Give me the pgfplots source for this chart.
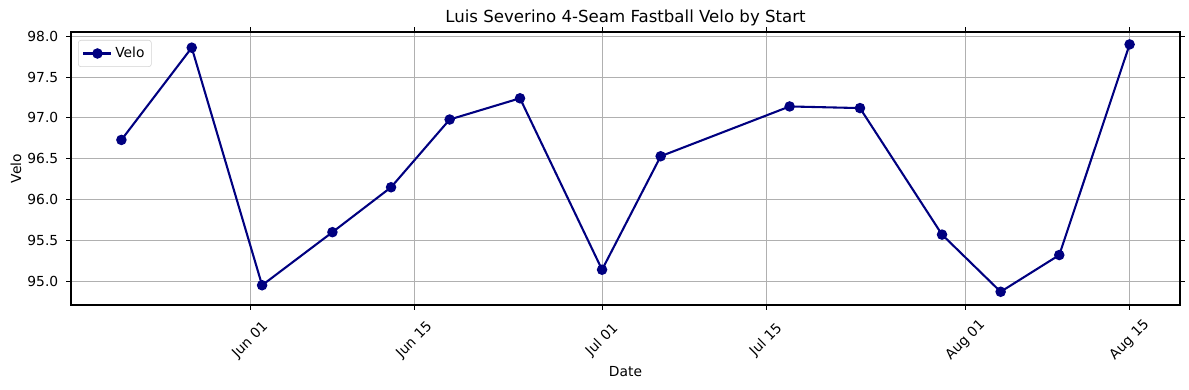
\documentclass[border=0pt]{standalone}
\usepackage{fontspec}
\setmainfont{DejaVu Sans}
\usepackage{pgfplots}
\pgfplotsset{compat=1.18}
\definecolor{navyc}{RGB}{0,0,128}
\definecolor{gridgray}{RGB}{176,176,176}
\begin{document}
\begin{tikzpicture}
\path[use as bounding box] (-0.71in,-0.85in) rectangle (11.18in,3.05in);
\begin{axis}[at={(0,0)}, anchor=south west, scale only axis,
  width=11.09in, height=2.73in,
  xmin=-15.3, xmax=79.3, ymin=94.708, ymax=98.052,
  xtick={0,14,30,44,61,75},
  xticklabels={Jun 01,Jun 15,Jul 01,Jul 15,Aug 01,Aug 15},
  ytick={95,95.5,96,96.5,97,97.5,98},
  yticklabels={95.0,95.5,96.0,96.5,97.0,97.5,98.0},
  tick align=outside, major tick length=3.5bp,
  tick style={black, line width=0.8bp},
  axis line style={line width=0.8bp},
  grid=major, major grid style={gridgray, line width=0.8bp},
  ticklabel style={font=\fontsize{10}{12}\selectfont},
  xticklabel style={rotate=45, anchor=center, xshift=-0.215in, yshift=-0.215in},
  yticklabel style={anchor=east, xshift=-0.03in},
  /pgf/number format/assume math mode=true,
  xlabel={Date}, ylabel={Velo},
  label style={font=\fontsize{10}{12}\selectfont},
  xlabel style={at={(axis description cs:0.5,-0.2454)}, anchor=center},
  ylabel style={at={(axis description cs:-0.0496,0.5)}, anchor=center, rotate=0},
  every axis title shift=0pt,
  title={Luis Severino 4-Seam Fastball Velo by Start},
  title style={at={(axis description cs:0.5,1.0513)}, anchor=center, font=\fontsize{12}{14}\selectfont},
  legend style={at={(axis description cs:0,1)}, anchor=north west, xshift=0.07in, yshift=-0.08in,
    draw=gray!35, rounded corners=2pt, font=\fontsize{10}{12}\selectfont, inner sep=3pt},
  legend image code/.code={\draw[mark repeat=2, mark phase=2] plot coordinates {(0in,0in) (0.14in,0in) (0.28in,0in)};},
  legend cell align=left,
]
\addplot[navyc, line width=1.5bp, mark=*, mark size=3bp, mark options={fill=navyc, draw=navyc}]
  coordinates {
  (-11,96.73) (-5,97.86) (1,94.95) (7,95.60) (12,96.15) (17,96.98) (23,97.24)
  (30,95.14) (35,96.53) (46,97.14) (52,97.12) (59,95.57) (64,94.87) (69,95.32) (75,97.90)
  };
\addlegendentry{Velo}
\end{axis}
\end{tikzpicture}
\end{document}
